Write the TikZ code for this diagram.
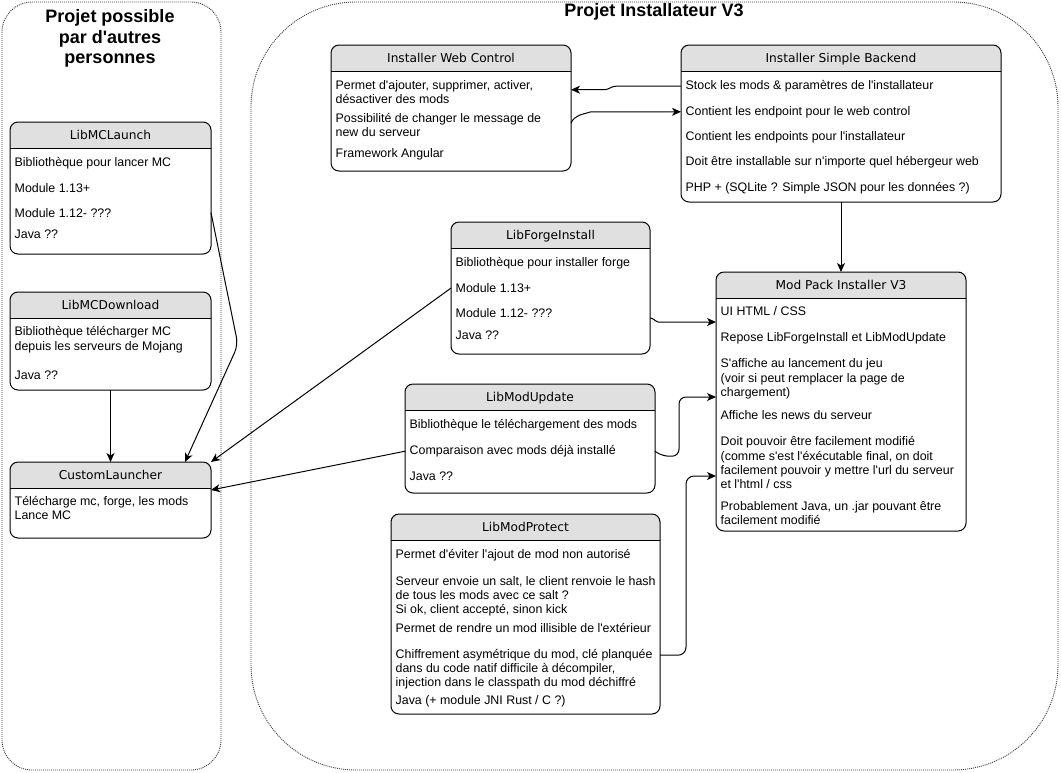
\documentclass[tikz,border=0pt]{standalone}
\usepackage{fontspec}
\setmainfont{Liberation Sans}[Ligatures=TeXOff]
\newfontfamily\hdrfont{DejaVu Sans}[Ligatures=TeXOff]
\usetikzlibrary{arrows.meta,calc}
\definecolor{hdrgray}{HTML}{E0E0E0}
\tikzset{
  boxbg/.style={fill=white, inner sep=0pt, outer sep=0pt, rounded corners=8pt},
  hdr/.style={font=\hdrfont\fontsize{12.2}{14}\selectfont, inner sep=0pt, anchor=base},
  itm/.style={font=\fontsize{12.4}{14}\selectfont, inner sep=0pt, anchor=base west},
  ttl/.style={font=\fontsize{18}{21}\selectfont\bfseries, inner sep=0pt, anchor=base},
  cont/.style={draw=black!75, dash pattern=on 1pt off 1pt, line width=0.9pt},
  arr/.style={draw, line width=1pt, -{Stealth[length=9pt,width=8pt,inset=2.5pt]}},
}
\newcommand\swim[6]{%
  \node[boxbg, minimum width=#4pt, minimum height=#5pt, anchor=north west] (#1) at (#2,#3) {};
  \begin{scope}
    \clip[rounded corners=8pt] (#1.north west) rectangle (#1.south east);
    \fill[hdrgray] (#1.north west) rectangle ($(#1.north east)+(0,26)$);
  \end{scope}
  \draw[line width=1pt] ($(#1.north west)+(0,26)$) -- ($(#1.north east)+(0,26)$);
  \draw[line width=1pt, rounded corners=8pt] (#1.north west) rectangle (#1.south east);
  \node[hdr] (#1t) at ($(#1.north)+(0,17.5)$) {#6};
}
\begin{document}
\begin{tikzpicture}[x=1pt,y=-1pt]
\useasboundingbox (0,0) rectangle (1061,772);
\fill[white] (0,0) rectangle (1061,772);

% containers
\draw[cont, rounded corners=30pt] (2,2) rectangle (221,770);
\draw[cont, rounded corners=105pt] (251,2) rectangle (1058,770);
\node[ttl] (tl1) at (110,22) {Projet possible};
\node[ttl] (tl2) at (110,43) {par d'autres};
\node[ttl] (tl3) at (110,63.5) {personnes};
\node[ttl] (tr) at (654,16) {Projet Installateur V3};

% LibMCLaunch
\swim{lmc}{10}{122}{201}{132}{LibMCLaunch}
\node[itm] (lmc1) at (14.5,166) {Bibliothèque pour lancer MC};
\node[itm] (lmc2) at (14.5,192) {Module 1.13+};
\node[itm] (lmc3) at (14.5,217) {Module 1.12- ???};
\node[itm] (lmc4) at (14.5,238.5) {Java ??};

% LibMCDownload
\swim{lmd}{10}{292}{201}{98}{LibMCDownload}
\node[itm] (lmd1) at (14.5,335.5) {Bibliothèque télécharger MC};
\node[itm] (lmd2) at (14.5,350) {depuis les serveurs de Mojang};
\node[itm] (lmd3) at (14.5,379) {Java ??};

% CustomLauncher
\swim{cl}{10}{462}{201}{76}{CustomLauncher}
\node[itm] (cl1) at (14.5,505) {Télécharge mc, forge, les mods};
\node[itm] (cl2) at (14.5,519.5) {Lance MC};

% Installer Web Control
\swim{wc}{331}{45}{240}{126}{Installer Web Control}
\node[itm] (wc1) at (335.5,89) {Permet d'ajouter, supprimer, activer,};
\node[itm] (wc2) at (335.5,103) {désactiver des mods};
\node[itm] (wc3) at (335.5,122.5) {Possibilité de changer le message de};
\node[itm] (wc4) at (335.5,136.5) {new du serveur};
\node[itm] (wc5) at (335.5,157) {Framework Angular};

% Installer Simple Backend
\swim{bk}{681}{45}{320}{157}{Installer Simple Backend}
\node[itm] (bk1) at (685.5,89.5) {Stock les mods \& paramètres de l'installateur};
\node[itm] (bk2) at (685.5,115) {Contient les endpoint pour le web control};
\node[itm] (bk3) at (685.5,140) {Contient les endpoints pour l'installateur};
\node[itm] (bk4) at (685.5,165.5) {Doit être installable sur n'importe quel hébergeur web};
\node[itm] (bk5) at (685.5,191) {PHP + (SQLite ? Simple JSON pour les données ?)};

% LibForgeInstall
\swim{lfi}{451}{222}{199}{132}{LibForgeInstall}
\node[itm] (lfi1) at (455.5,266.5) {Bibliothèque pour installer forge};
\node[itm] (lfi2) at (455.5,292.5) {Module 1.13+};
\node[itm] (lfi3) at (455.5,317.5) {Module 1.12- ???};
\node[itm] (lfi4) at (455.5,339.5) {Java ??};

% Mod Pack Installer V3
\swim{mp}{716}{272}{250}{259}{Mod Pack Installer V3}
\node[itm] (mp1) at (720.5,315.5) {UI HTML / CSS};
\node[itm] (mp2) at (720.5,341.5) {Repose LibForgeInstall et LibModUpdate};
\node[itm] (mp3) at (720.5,367.5) {S'affiche au lancement du jeu};
\node[itm] (mp4) at (720.5,382) {(voir si peut remplacer la page de};
\node[itm] (mp5) at (720.5,396.5) {chargement)};
\node[itm] (mp6) at (720.5,419) {Affiche les news du serveur};
\node[itm] (mp7) at (720.5,445.5) {Doit pouvoir être facilement modifié};
\node[itm] (mp8) at (720.5,460) {(comme s'est l'éxécutable final, on doit};
\node[itm] (mp9) at (720.5,474) {facilement pouvoir y mettre l'url du serveur};
\node[itm] (mp10) at (720.5,488) {et l'html / css};
\node[itm] (mp11) at (720.5,510) {Probablement Java, un .jar pouvant être};
\node[itm] (mp12) at (720.5,524.5) {facilement modifié};

% LibModUpdate
\swim{lmu}{405}{384}{250}{109}{LibModUpdate}
\node[itm] (lmu1) at (409.5,428.5) {Bibliothèque le téléchargement des mods};
\node[itm] (lmu2) at (409.5,454.5) {Comparaison avec mods déjà installé};
\node[itm] (lmu3) at (409.5,480) {Java ??};

% LibModProtect
\swim{lmp}{391}{514}{269}{200}{LibModProtect}
\node[itm] (lmp1) at (395.5,558) {Permet d'éviter l'ajout de mod non autorisé};
\node[itm] (lmp2) at (395.5,585) {Serveur envoie un salt, le client renvoie le hash};
\node[itm] (lmp3) at (395.5,599) {de tous les mods avec ce salt ?};
\node[itm] (lmp4) at (395.5,613) {Si ok, client accepté, sinon kick};
\node[itm] (lmp5) at (395.5,632.5) {Permet de rendre un mod illisible de l'extérieur};
\node[itm] (lmp6) at (395.5,658.5) {Chiffrement asymétrique du mod, clé planquée};
\node[itm] (lmp7) at (395.5,672.5) {dans du code natif difficile à décompiler,};
\node[itm] (lmp8) at (395.5,686.5) {injection dans le classpath du mod déchiffré};
\node[itm] (lmp9) at (395.5,704.5) {Java (+ module JNI Rust / C ?)};

% connectors
% Backend -> Web Control
\draw[arr, rounded corners=3pt] (bk.west |- bk1.west) -- ++(-68,0) -- ++(-6,3.5) coordinate (a1) -- (a1 -| wc.east);
% Web Control -> Backend
\coordinate (b0) at ($(wc.north east)+(0,78)$);
\coordinate (b1) at ($(bk2.west -| b0)+(20,0)$);
\draw[arr] (b0) .. controls ($(b0)+(4,-8)$) and ($(b1)+(-10,3)$) .. (b1) -- (b1 -| bk.west);
% Backend -> Mod Pack
\draw[arr] (bk.south) -- (mp.north);
% LibForgeInstall -> Mod Pack
\draw[arr, rounded corners=2pt] ($(lfi.north east)+(0,96)$) -- ++(3,0) -- ++(3,4) coordinate (d1) -- (d1 -| mp.west);
% LibModUpdate -> Mod Pack
\coordinate (e2) at ($(mp.north west)+(0,125)$);
\draw[arr, rounded corners=7pt] (lmu.east |- lmu2.west) -- ++(7,5) -| ($(e2)+(-37,0)$) -- (e2);
% LibModProtect -> Mod Pack
\coordinate (f2) at ($(mp.north west)+(0,204)$);
\draw[arr, rounded corners=8pt] (lmp.east |- lmp6.west) -| ($(f2)+(-30,0)$) -- (f2);
% LibMCLaunch -> CustomLauncher
\coordinate (g1) at (238,345);
\draw[arr, rounded corners=8pt] (lmc.east |- lmc3.west) -- (g1) -- ($(cl.north west)+(175,0)$);
% LibMCDownload -> CustomLauncher
\draw[arr] (lmd.south) -- (cl.north);
% LibForgeInstall -> CustomLauncher
\draw[arr] (lfi.west |- lfi2.west) -- (cl.north east);
% LibModUpdate -> CustomLauncher
\draw[arr] (lmu.west |- lmu2.west) -- ($(cl.north east)+(0,28)$);
\end{tikzpicture}
\end{document}
